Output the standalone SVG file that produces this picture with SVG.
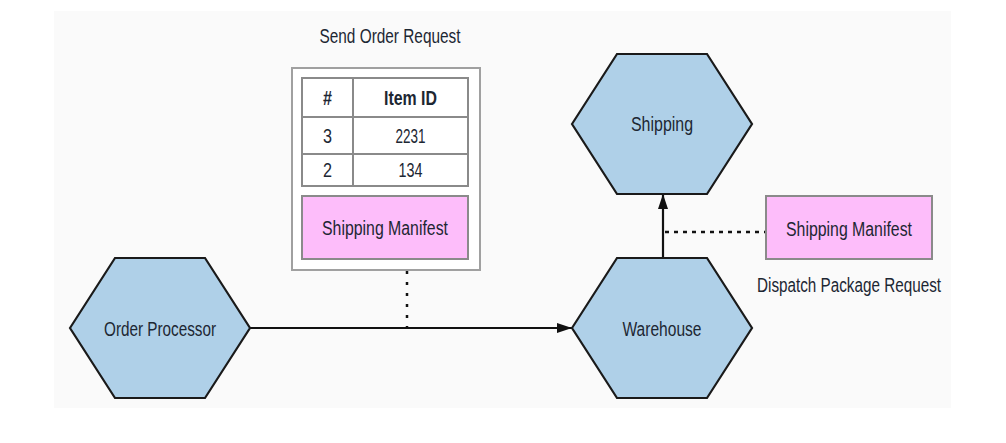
<svg xmlns="http://www.w3.org/2000/svg" width="1006" height="443" viewBox="0 0 1006 443">
<style>
.txt{font-family:"Liberation Sans",Arial,sans-serif;font-size:20px;fill:#1d2733;text-anchor:middle}
.bold{font-weight:bold}
.hex{fill:#afd0e8;stroke:#1a1a1a;stroke-width:2.2;stroke-linejoin:miter}
.pink{fill:#fdbdfa;stroke:#8a8a8a;stroke-width:2}
.cell{fill:#ffffff;stroke:#8a8a8a;stroke-width:2}
.frame{fill:#ffffff;stroke:#a0a0a0;stroke-width:2}
.solid{stroke:#111;stroke-width:2.2;fill:none}
.dot{stroke:#111;stroke-width:2.5;fill:none}
</style>
<defs>
<marker id="arrow" viewBox="0 0 15 10" refX="15" refY="5" markerWidth="15" markerHeight="10" markerUnits="userSpaceOnUse" orient="auto">
<path d="M0,0 L15,5 L0,10 Z" fill="#111"/>
</marker>
</defs>
<rect x="54" y="11" width="897" height="397" fill="#fafafa"/>
<g id="connectors">
<line class="solid" x1="250" y1="328" x2="572" y2="328" marker-end="url(#arrow)"/>
<line class="solid" x1="663" y1="258" x2="663" y2="194" marker-end="url(#arrow)"/>
<line class="dot" x1="407" y1="271" x2="407" y2="327" stroke-dasharray="3 8"/>
<line class="dot" x1="665" y1="232" x2="766" y2="232" stroke-dasharray="4 5"/>
</g>
<g id="send-order-request">
<text class="txt" x="390" y="43" textLength="141" lengthAdjust="spacingAndGlyphs">Send Order Request</text>
<rect class="frame" x="292" y="68" width="188" height="202"/>
<rect class="cell" x="302" y="78" width="51" height="39"/>
<rect class="cell" x="353" y="78" width="115" height="39"/>
<rect class="cell" x="302" y="117" width="51" height="37"/>
<rect class="cell" x="353" y="117" width="115" height="37"/>
<rect class="cell" x="302" y="154" width="51" height="32"/>
<rect class="cell" x="353" y="154" width="115" height="32"/>
<text class="txt bold" x="327.5" y="105" textLength="9" lengthAdjust="spacingAndGlyphs">#</text>
<text class="txt bold" x="410.5" y="105" textLength="53" lengthAdjust="spacingAndGlyphs">Item ID</text>
<text class="txt" x="327.5" y="143" textLength="9" lengthAdjust="spacingAndGlyphs">3</text>
<text class="txt" x="410.5" y="143" textLength="30" lengthAdjust="spacingAndGlyphs">2231</text>
<text class="txt" x="327.5" y="177" textLength="9" lengthAdjust="spacingAndGlyphs">2</text>
<text class="txt" x="410.5" y="177" textLength="24" lengthAdjust="spacingAndGlyphs">134</text>
<rect class="pink" x="302" y="196" width="166" height="63"/>
<text class="txt" x="385" y="235" textLength="126" lengthAdjust="spacingAndGlyphs">Shipping Manifest</text>
</g>
<g id="order-processor">
<polygon class="hex" points="70,328 115,258 205,258 250,328 205,398 115,398"/>
<text class="txt" x="160" y="336" textLength="112" lengthAdjust="spacingAndGlyphs">Order Processor</text>
</g>
<g id="warehouse">
<polygon class="hex" points="572,328 617,258 707,258 752,328 707,398 617,398"/>
<text class="txt" x="662" y="336" textLength="79" lengthAdjust="spacingAndGlyphs">Warehouse</text>
</g>
<g id="shipping">
<polygon class="hex" points="572,124 617,54 707,54 752,124 707,194 617,194"/>
<text class="txt" x="662" y="131" textLength="62" lengthAdjust="spacingAndGlyphs">Shipping</text>
</g>
<g id="dispatch-package-request">
<rect class="pink" x="766" y="196" width="166" height="63"/>
<text class="txt" x="849" y="236" textLength="126" lengthAdjust="spacingAndGlyphs">Shipping Manifest</text>
<text class="txt" x="849" y="292" textLength="184" lengthAdjust="spacingAndGlyphs">Dispatch Package Request</text>
</g>
</svg>
